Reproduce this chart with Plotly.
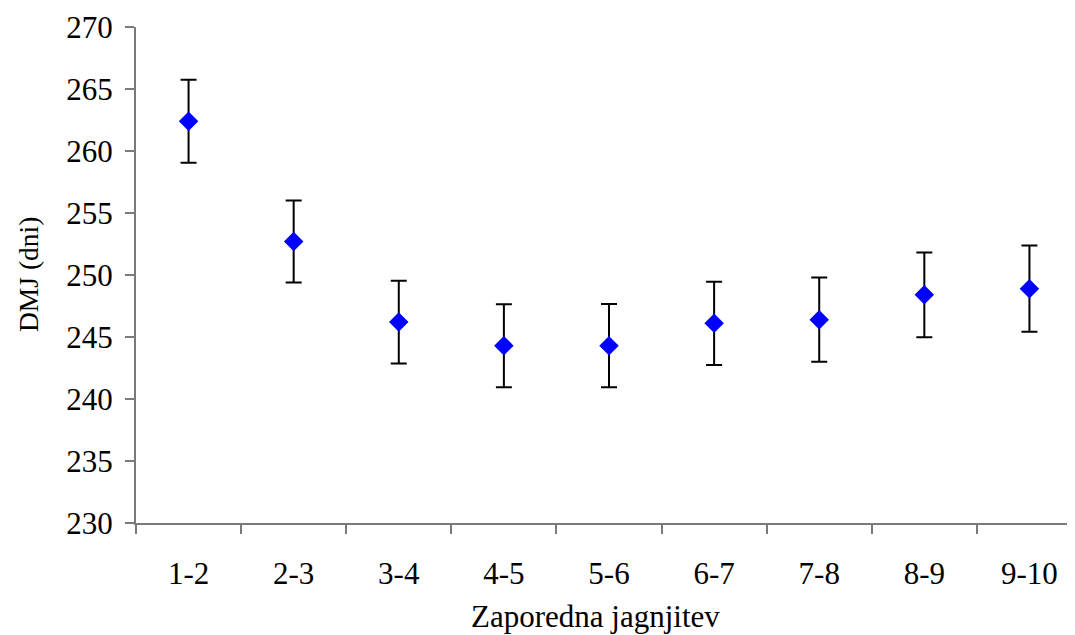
import plotly.graph_objects as go

categories = ["1-2", "2-3", "3-4", "4-5", "5-6", "6-7", "7-8", "8-9", "9-10"]
dmj = [262.4, 252.7, 246.2, 244.3, 244.3, 246.1, 246.4, 248.4, 248.9]
err = [3.35, 3.3, 3.33, 3.35, 3.36, 3.36, 3.4, 3.42, 3.47]
y_ticks = [230, 235, 240, 245, 250, 255, 260, 265, 270]

FONT = "Liberation Serif, Times New Roman, serif"
AX = "#7a7a7a"

# page body has an 8px offset; plot area in figure coordinates
L, R, T, B = 128, 1074, 19, 515
W, H = 1075, 635

fig = go.Figure()
fig.add_trace(go.Scatter(
    x=categories, y=dmj, mode="markers",
    marker=dict(symbol="diamond", size=15, color="#0000FF"),
    error_y=dict(type="data", array=err, visible=True, color="black",
                 thickness=2, width=8),
    showlegend=False,
))

fig.update_layout(
    width=W, height=H,
    margin=dict(l=L, r=W - R, t=T, b=H - B),
    paper_bgcolor="white", plot_bgcolor="white",
    font=dict(family=FONT, size=31, color="black"),
    xaxis=dict(
        type="category", categoryorder="array", categoryarray=categories,
        range=[-0.5, 8.5], showgrid=False, zeroline=False,
        showline=True, linecolor=AX, linewidth=2,
        ticks="outside", tickson="boundaries", ticklen=9, tickcolor=AX, tickwidth=2,
        tickfont=dict(family=FONT, size=31, color="black"),
        ticklabelstandoff=22,
    ),
    yaxis=dict(
        range=[230, 270], tickvals=y_ticks, showgrid=False, zeroline=False,
        showline=True, linecolor=AX, linewidth=2,
        ticks="outside", ticklen=9, tickcolor=AX, tickwidth=2,
        tickfont=dict(family=FONT, size=31, color="black"),
        ticklabelstandoff=6,
    ),
    annotations=[
        dict(text="Zaporedna jagnjitev", xref="paper", yref="paper",
             x=(587 - L) / (R - L), y=-(608 - B) / (B - T),
             xanchor="center", yanchor="middle", showarrow=False,
             font=dict(family=FONT, size=31, color="black")),
        dict(text="DMJ (dni)", xref="paper", yref="paper",
             x=-(L - 20) / (R - L), y=(B - 267) / (B - T),
             xanchor="center", yanchor="middle", showarrow=False, textangle=-90,
             font=dict(family=FONT, size=27.5, color="black")),
    ],
)

fig.write_html("out.html")
